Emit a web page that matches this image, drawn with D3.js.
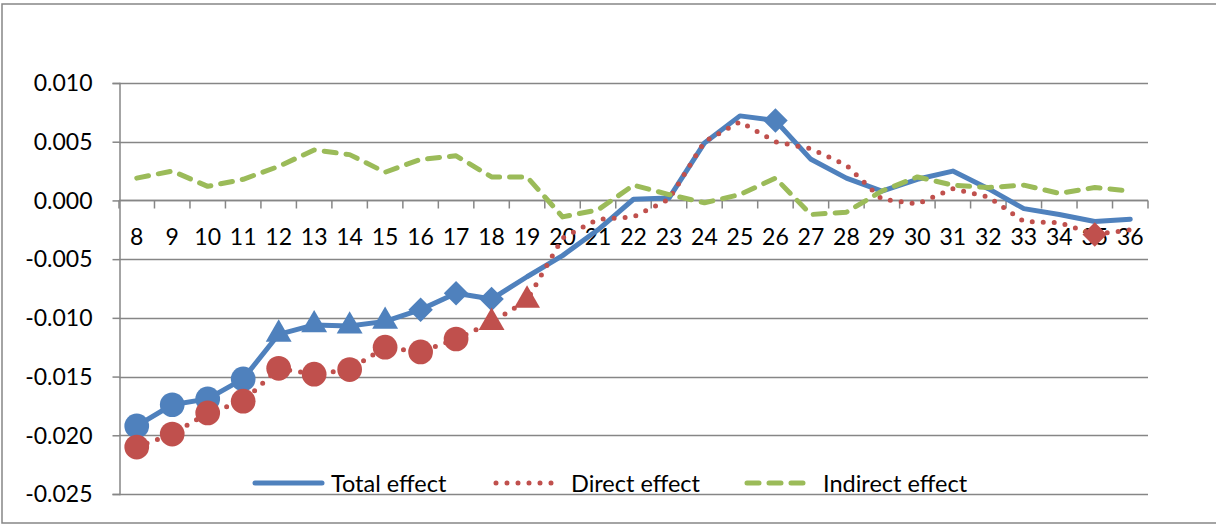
<!DOCTYPE html>
<html>
<head>
<meta charset="utf-8">
<script src="https://cdn.jsdelivr.net/npm/d3@7"></script>
<style>
  html, body { margin: 0; padding: 0; background: #fff; }
  svg { display: block; }
  text { font-family: Lato, "Open Sans", sans-serif; fill: #000; }
</style>
</head>
<body>
<svg id="chart" width="1216" height="525"></svg>
<script>
// Age groups on the category axis
const ages = [8, 9, 10, 11, 12, 13, 14, 15, 16, 17, 18, 19, 20, 21, 22, 23, 24, 25, 26, 27, 28, 29, 30, 31, 32, 33, 34, 35, 36];

// Effect estimates per age
const totalEffect = [-0.0192, -0.0174, -0.0169, -0.0152, -0.0114, -0.0106, -0.0107, -0.0103, -0.0093, -0.0079, -0.0084, -0.0065, -0.0047, -0.0025, 0.0001, 0.0002, 0.0049, 0.0072, 0.0068, 0.0035, 0.0019, 0.0008, 0.0018, 0.0025, 0.0010, -0.0007, -0.0012, -0.0018, -0.0016];
const directEffect = [-0.0210, -0.0199, -0.0181, -0.0171, -0.0143, -0.0148, -0.0144, -0.0125, -0.0129, -0.0118, -0.0104, -0.0085, -0.0032, -0.0016, -0.0014, 0.0001, 0.0050, 0.0067, 0.0050, 0.0044, 0.0030, 0.0001, -0.0003, 0.0010, 0.0003, -0.0018, -0.0019, -0.0029, -0.0025];
const indirectEffect = [0.0019, 0.0025, 0.0012, 0.0018, 0.0029, 0.0043, 0.0039, 0.0024, 0.0035, 0.0038, 0.0020, 0.0020, -0.0014, -0.0008, 0.0013, 0.0005, -0.0002, 0.0005, 0.0019, -0.0012, -0.0010, 0.0008, 0.0020, 0.0013, 0.0011, 0.0013, 0.0006, 0.0011, 0.0008];

// Point markers flagging individual estimates (null = no marker)
const totalMarkers = ["circle", "circle", "circle", "circle", "triangle", "triangle", "triangle", "triangle", "diamond", "diamond", "diamond", null, null, null, null, null, null, null, "diamond", null, null, null, null, null, null, null, null, null, null];
const directMarkers = ["circle", "circle", "circle", "circle", "circle", "circle", "circle", "circle", "circle", "circle", "triangle", "triangle", null, null, null, null, null, null, null, null, null, null, null, null, null, null, null, "diamond", null];

// Value axis ticks
const yTicks = [0.010, 0.005, 0.000, -0.005, -0.010, -0.015, -0.020, -0.025];

const seriesNames = ["Total effect", "Direct effect", "Indirect effect"];

const svg = d3.select("#chart");
const gridColor = "#868686";
const colors = { total: "#4F81BD", direct: "#C0504D", indirect: "#9BBB59" };

const plot = { left: 119, right: 1148, top: 83, bottom: 494 };

const x = d3.scaleBand().domain(ages).range([plot.left, plot.right]).paddingInner(0).paddingOuter(0);
const y = d3.scaleLinear().domain([-0.025, 0.010]).range([plot.bottom, plot.top]);
const cx = a => x(a) + x.bandwidth() / 2;

// Chart frame
svg.append("rect")
  .attr("x", 2).attr("y", 4)
  .attr("width", 1240).attr("height", 519)
  .attr("fill", "none").attr("stroke", gridColor).attr("stroke-width", 1.5);

// Horizontal gridlines
svg.append("g")
  .selectAll("line")
  .data(yTicks)
  .join("line")
  .attr("x1", plot.left).attr("x2", plot.right)
  .attr("y1", d => Math.round(y(d)) + 0.5).attr("y2", d => Math.round(y(d)) + 0.5)
  .attr("stroke", gridColor).attr("stroke-width", 1.5);

// Value axis with outward ticks
const yAxis = d3.axisLeft(y).tickValues(yTicks).tickSize(7).tickPadding(20)
  .tickFormat(d3.format(".3f"));
const yG = svg.append("g").attr("transform", `translate(${plot.left + 0.5},0)`).call(yAxis);
yG.select(".domain").attr("stroke", gridColor).attr("stroke-width", 1.5);
yG.selectAll(".tick line").attr("stroke", gridColor).attr("stroke-width", 1.5);
yG.selectAll(".tick text")
  .attr("font-family", "Lato, 'Open Sans', sans-serif")
  .attr("font-size", 23)
  .attr("dy", "0.34em")
  .text(d => d3.format(".3f")(d).replace("−", "-"));

// Category axis drawn at zero, ticks between categories
const y0 = Math.round(y(0)) + 0.5;
const xG = svg.append("g");
xG.append("line")
  .attr("x1", plot.left).attr("x2", plot.right)
  .attr("y1", y0).attr("y2", y0)
  .attr("stroke", gridColor).attr("stroke-width", 1.5);
const boundaries = ages.map(a => x(a)).concat([plot.right]);
xG.selectAll("line.tk")
  .data(boundaries)
  .join("line").attr("class", "tk")
  .attr("x1", d => d).attr("x2", d => d)
  .attr("y1", y0).attr("y2", y0 + 8)
  .attr("stroke", gridColor).attr("stroke-width", 1.5);
xG.selectAll("text")
  .data(ages)
  .join("text")
  .attr("x", d => cx(d))
  .attr("y", 245)
  .attr("text-anchor", "middle")
  .attr("font-size", 23)
  .text(d => d);

// Series lines
const line = vals => d3.line().x((d, i) => cx(ages[i])).y(d => y(d))(vals);

function markerPath(type) {
  if (type === "circle") return d3.symbol(d3.symbolCircle, 480)();
  if (type === "triangle") return d3.symbol(d3.symbolTriangle, 290)();
  if (type === "diamond") return d3.symbol(d3.symbolSquare, 300)();
  return null;
}

function drawMarkers(vals, markers, color) {
  svg.append("g")
    .selectAll("path")
    .data(vals.map((v, i) => ({ v, i, m: markers[i] })).filter(d => d.m))
    .join("path")
    .attr("d", d => markerPath(d.m))
    .attr("transform", d => `translate(${cx(ages[d.i])},${y(d.v)})` + (d.m === "diamond" ? " rotate(45)" : ""))
    .attr("fill", color);
}

// Total effect
svg.append("path").attr("d", line(totalEffect))
  .attr("fill", "none").attr("stroke", colors.total).attr("stroke-width", 5)
  .attr("stroke-linejoin", "round").attr("stroke-linecap", "round");
drawMarkers(totalEffect, totalMarkers, colors.total);

// Direct effect
svg.append("path").attr("d", line(directEffect))
  .attr("fill", "none").attr("stroke", colors.direct).attr("stroke-width", 5)
  .attr("stroke-dasharray", "0,11").attr("stroke-linecap", "round");
drawMarkers(directEffect, directMarkers, colors.direct);

// Indirect effect
svg.append("path").attr("d", line(indirectEffect))
  .attr("fill", "none").attr("stroke", colors.indirect).attr("stroke-width", 5)
  .attr("stroke-dasharray", "12,10").attr("stroke-linecap", "round")
  .attr("stroke-linejoin", "round");

// Legend
const legendY = 483;
const legendItems = [
  { name: seriesNames[0], color: colors.total, dash: null, x0: 255, x1: 322, tx: 331 },
  { name: seriesNames[1], color: colors.direct, dash: "0,11", x0: 496, x1: 560, tx: 571 },
  { name: seriesNames[2], color: colors.indirect, dash: "12,10", x0: 747, x1: 805, tx: 823 }
];
const lg = svg.append("g");
legendItems.forEach(it => {
  lg.append("line")
    .attr("x1", it.x0).attr("x2", it.x1)
    .attr("y1", legendY).attr("y2", legendY)
    .attr("stroke", it.color).attr("stroke-width", 5)
    .attr("stroke-linecap", "round")
    .attr("stroke-dasharray", it.dash);
  lg.append("text")
    .attr("x", it.tx).attr("y", legendY + 8.5)
    .attr("font-size", 23.5)
    .text(it.name);
});
</script>
</body>
</html>
